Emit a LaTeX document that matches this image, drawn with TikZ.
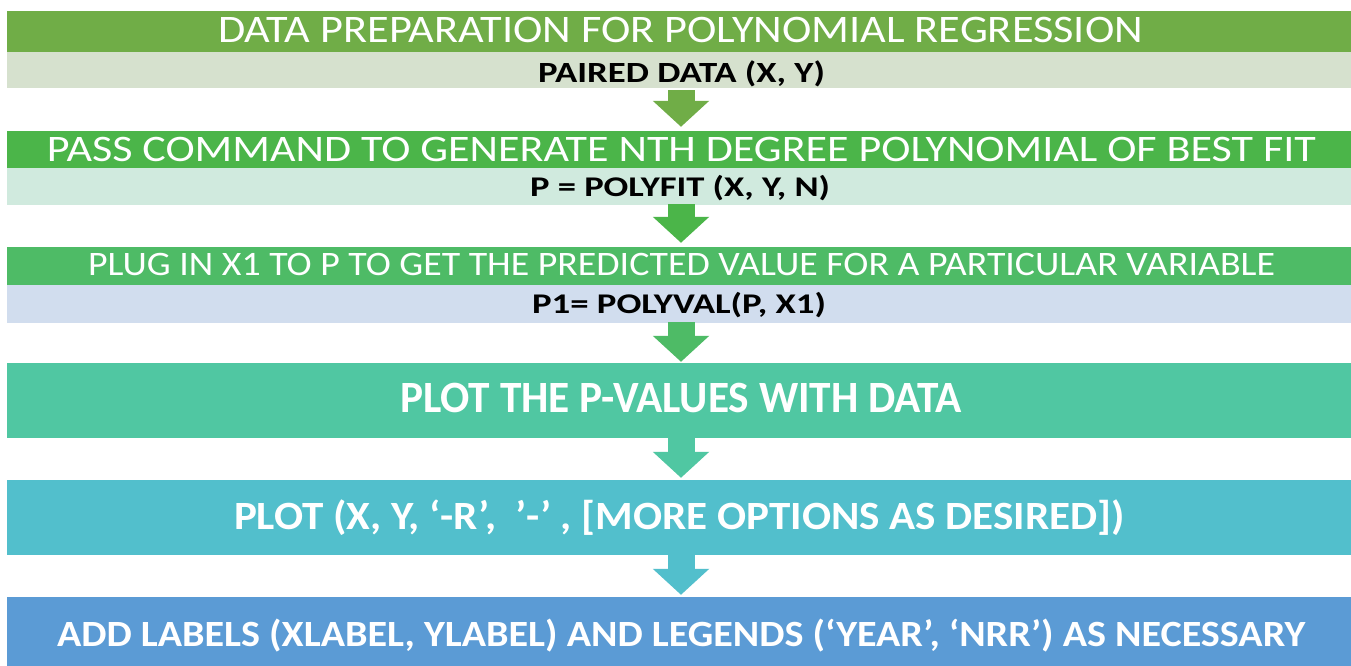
\documentclass[tikz,border=0pt]{standalone}
\usepackage{fontspec}
\setmainfont{Carlito}
\usetikzlibrary{arrows.meta,calc}
\definecolor{cA}{RGB}{112,173,71}
\definecolor{cB}{RGB}{75,181,73}
\definecolor{cC}{RGB}{78,187,102}
\definecolor{cD}{RGB}{80,199,162}
\definecolor{cE}{RGB}{82,191,204}
\definecolor{cF}{RGB}{91,155,213}
\definecolor{sA}{RGB}{214,225,206}
\definecolor{sB}{RGB}{208,234,222}
\definecolor{sC}{RGB}{209,221,238}
\newsavebox\fitbox
\newlength\fitcap
\newlength\fitwd
% #1 target width, #2 target cap height, #3 text
\newcommand{\fitwh}[3]{%
  \sbox\fitbox{#3}%
  \setlength\fitwd{\wd\fitbox}%
  \setlength\fitcap{\fontcharht\font`H}%
  \pgfmathsetmacro\fitsx{#1/\fitwd}%
  \pgfmathsetmacro\fitsy{#2/\fitcap}%
  \scalebox{\fitsx}[\fitsy]{\usebox\fitbox}}
\begin{document}
\begin{tikzpicture}[x=1pt,y=-1pt,
  bar/.style={rectangle, inner sep=0pt, minimum width=1348pt},
  wtext/.style={inner sep=0pt, anchor=base, text=white},
  btext/.style={inner sep=0pt, anchor=base, text=white, font=\bfseries},
  ktext/.style={inner sep=0pt, anchor=base, text=black, font=\bfseries},
  flowarrow/.style={line width=27pt, -{Triangle[width=55pt,length=26pt]}}
]
\useasboundingbox[fill=white] (0,0) rectangle (1351,666);
% bars
\node[bar, fill=cA, minimum height=41pt] (t1) at (681,31.5) {};
\node[bar, fill=sA, minimum height=36pt] (s1) at (681,70) {};
\node[bar, fill=cB, minimum height=37pt] (t2) at (681,149.5) {};
\node[bar, fill=sB, minimum height=37pt] (s2) at (681,186.5) {};
\node[bar, fill=cC, minimum height=38pt] (t3) at (681,266) {};
\node[bar, fill=sC, minimum height=38pt] (s3) at (681,304) {};
\node[bar, fill=cD, minimum height=75pt] (b4) at (681,400.5) {};
\node[bar, fill=cE, minimum height=75pt] (b5) at (681,517.5) {};
\node[bar, fill=cF, minimum height=69pt] (b6) at (681,631.5) {};
% texts
\node[wtext] (t1txt) at (680.5,43) {\fitwh{925pt}{25pt}{DATA PREPARATION FOR POLYNOMIAL REGRESSION}};
\node[ktext] (s1txt) at (681.5,82.5) {\fitwh{287pt}{19pt}{PAIRED DATA (X, Y)}};
\node[wtext] (t2txt) at (681.5,161) {\fitwh{1269pt}{24pt}{PASS COMMAND TO GENERATE NTH DEGREE POLYNOMIAL OF BEST FIT}};
\node[ktext] (s2txt) at (680,196) {\fitwh{300pt}{18.5pt}{P = POLYFIT (X, Y, N)}};
\node[wtext] (t3txt) at (681.5,275) {\fitwh{1187pt}{22pt}{PLUG IN X1 TO P TO GET THE PREDICTED VALUE FOR A PARTICULAR VARIABLE}};
\node[ktext] (s3txt) at (679,313.5) {\fitwh{294pt}{18.5pt}{P1= POLYVAL(P, X1)}};
\node[btext] (b4txt) at (681,412) {\fitwh{562pt}{29pt}{PLOT THE P-VALUES WITH DATA}};
\node[btext] (b5txt) at (679.5,529) {\fitwh{891pt}{26pt}{PLOT (X, Y, ‘-R’,\ \ ’-’ , [MORE OPTIONS AS DESIRED])}};
\node[btext] (b6txt) at (681,646) {\fitwh{1248pt}{24pt}{ADD LABELS (XLABEL, YLABEL) AND LEGENDS (‘YEAR’, ‘NRR’) AS NECESSARY}};
% arrows
\draw[flowarrow, cA] ($(s1.south)+(0,2)$) -- ($(t2.north)+(0,-4)$);
\draw[flowarrow, cB] ($(s2.south)+(0,-1)$) -- ($(t3.north)+(0,-4)$);
\draw[flowarrow, cC] ($(s3.south)+(0,-1)$) -- ($(b4.north)+(0,-1)$);
\draw[flowarrow, cD] ($(b4.south)+(0,0)$) -- ($(b5.north)+(0,-2)$);
\draw[flowarrow, cE] ($(b5.south)+(0,0)$) -- ($(b6.north)+(0,-2)$);
\end{tikzpicture}
\end{document}
